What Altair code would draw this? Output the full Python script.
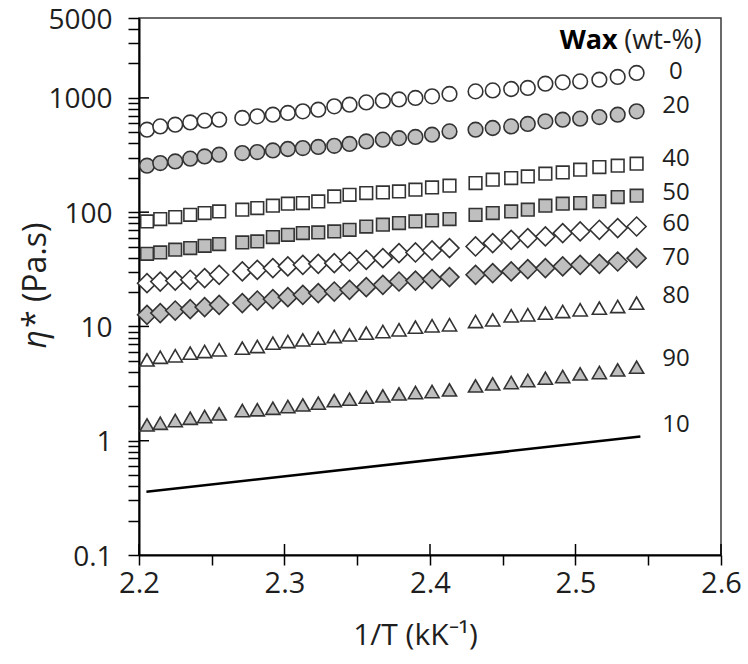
import altair as alt
import pandas as pd

# 1/T positions of the measurements (kK^-1)
inv_T = [2.2055, 2.2146, 2.2249, 2.2352, 2.2451, 2.2551,
         2.2710, 2.2813, 2.2920, 2.3023, 2.3126, 2.3232, 2.3342, 2.3447,
         2.3562, 2.3676, 2.3787, 2.3900, 2.4014, 2.4134,
         2.4313, 2.4431, 2.4558, 2.4672, 2.4793, 2.4912, 2.5032, 2.5164,
         2.5290, 2.5420]

# complex viscosity (Pa.s) per wax content (wt-%)
eta_0 = [527, 563, 583, 610, 632, 645, 667, 689, 713, 738, 762, 788, 843, 872,
         913, 945, 968, 998, 1031, 1082, 1140, 1163, 1196, 1221, 1331, 1367,
         1394, 1443, 1524, 1652]
eta_20 = [255, 269, 278, 294, 307, 318, 329, 336, 347, 357, 364, 372, 381, 395,
          416, 431, 444, 455, 476, 509, 527, 545, 563, 591, 623, 644, 658, 680,
          713, 762]
eta_40 = [82.9, 87.0, 90.6, 94.9, 98.2, 101.4, 105.0, 108.6, 113.8, 118.5,
          120.1, 124.1, 137.3, 142.0, 147.0, 148.8, 151.8, 157.1, 164.5, 170.3,
          179.8, 192.2, 198.9, 205.5, 216.9, 222.7, 235.1, 248.3, 254.9, 265.3]
eta_50 = [43.2, 44.4, 46.9, 48.5, 50.8, 52.6, 54.3, 55.4, 60.5, 63.4, 65.6,
          66.4, 67.8, 70.1, 74.9, 77.6, 80.3, 82.9, 84.6, 87.0, 94.9, 98.2,
          101.4, 105.0, 113.8, 118.5, 120.1, 124.1, 135.6, 139.2]
eta_60 = [23.9, 24.7, 25.2, 25.6, 26.5, 28.3, 30.3, 31.3, 32.4, 33.5, 34.6,
          35.3, 35.8, 37.0, 38.3, 39.6, 43.8, 44.4, 46.2, 48.5, 50.1, 53.6,
          57.3, 59.3, 61.3, 65.6, 67.8, 70.1, 72.6, 74.9]
eta_70 = [12.64, 13.08, 13.78, 14.17, 14.76, 15.46, 16.00, 16.86, 17.34, 18.05,
          18.91, 19.57, 20.21, 20.92, 22.08, 23.13, 24.73, 25.2, 25.96, 27.03,
          28.3, 29.3, 30.3, 31.75, 32.4, 33.5, 34.6, 35.3, 37.0, 39.6]
eta_80 = [5.10, 5.38, 5.53, 5.84, 6.03, 6.24, 6.46, 6.67, 7.14, 7.38, 7.63,
          7.90, 8.16, 8.44, 8.74, 9.02, 9.34, 9.86, 10.12, 10.33, 11.04, 11.42,
          12.38, 12.64, 13.08, 13.51, 13.98, 14.46, 14.94, 16.0]
eta_90 = [1.375, 1.423, 1.500, 1.574, 1.626, 1.717, 1.835, 1.868, 1.925, 1.989,
          2.058, 2.130, 2.244, 2.309, 2.404, 2.468, 2.570, 2.638, 2.692, 2.786,
          3.018, 3.143, 3.227, 3.360, 3.526, 3.641, 3.846, 3.948, 4.169, 4.402]

# 10 wt-% shown as a straight fitted line
line_10_x = [2.2051, 2.5446]
line_10_y = [0.358, 1.087]

series_names = ["0", "20", "40", "50", "60", "70", "80", "90"]
series_values = [eta_0, eta_20, eta_40, eta_50, eta_60, eta_70, eta_80, eta_90]
series_shapes = ["circle", "circle", "square", "square",
                 "diamond", "diamond", "triangle-up", "triangle-up"]
series_fills = ["white", "#bfbfbf", "white", "#bfbfbf",
                "white", "#bfbfbf", "white", "#bfbfbf"]
series_sizes = [215, 215, 160, 160, 360, 360, 200, 200]

# right-hand labels
label_text = ["0", "20", "40", "50", "60", "70", "80", "90", "10"]
label_y = [1672, 843, 292, 147, 79.1, 39.6, 18.3, 5.17, 1.375]
label_x = 2.569

x_ticks = [2.2, 2.25, 2.3, 2.35, 2.4, 2.45, 2.5, 2.55, 2.6]
x_major = [2.2, 2.3, 2.4, 2.5, 2.6]
y_ticks = [0.1, 0.2, 0.3, 0.4, 0.5, 0.6, 0.7, 0.8, 0.9,
           1, 2, 3, 4, 5, 6, 7, 8, 9,
           10, 20, 30, 40, 50, 60, 70, 80, 90,
           100, 200, 300, 400, 500, 600, 700, 800, 900,
           1000, 2000, 3000, 4000, 5000]
y_inner_major = [1, 10, 100, 1000]

FONT = "Open Sans"
TXT = "#1e1e1e"
W, H = 582, 537

x_scale = alt.Scale(domain=[2.2, 2.6], nice=False, zero=False)
y_scale = alt.Scale(type="log", domain=[0.1, 5000], nice=False)

x_axis = alt.Axis(
    values=x_ticks,
    labelExpr="round(datum.value * 100) % 10 == 0 ? format(datum.value, '.1f') : ''",
    grid=False, tickSize=10, tickWidth=1.5, tickColor="black",
    domainColor="black", domainWidth=2,
    labelFont=FONT, labelFontSize=29, labelColor=TXT, labelPadding=4,
    labelFlush=False, labelOverlap=False,
    title="1/T (kK⁻¹)", titleFont=FONT, titleFontSize=30,
    titleFontWeight="normal", titleColor=TXT, titlePadding=22,
    titleX=276, titleAlign="center",
)
y_axis = alt.Axis(
    values=y_ticks,
    labelExpr="indexof([0.1, 1, 10, 100, 1000, 5000], datum.value) >= 0 ? toString(datum.value) : ''",
    grid=False, tickSize=11, tickWidth=1.5, tickColor="black",
    domainColor="black", domainWidth=2,
    labelFont=FONT, labelFontSize=28, labelColor=TXT, labelPadding=16,
    labelFlush=False, labelOverlap=False, labelBaseline="middle",
    labelOffset=2,
    title=None,
)

# every layer that uses a scale carries the same axis definition
X = lambda f: alt.X(f, scale=x_scale, axis=x_axis)
Y = lambda f: alt.Y(f, scale=y_scale, axis=y_axis)

layers = []
for i, (name, vals) in enumerate(zip(series_names, series_values)):
    df = pd.DataFrame({"x": inv_T, "y": vals})
    layers.append(
        alt.Chart(df).mark_point(
            shape=series_shapes[i], size=series_sizes[i], filled=True,
            fill=series_fills[i], fillOpacity=1, opacity=1,
            stroke="#333333", strokeWidth=1.6,
        ).encode(x=X("x:Q"), y=Y("y:Q"))
    )

line10 = alt.Chart(pd.DataFrame({"x": line_10_x, "y": line_10_y})).mark_line(
    color="black", strokeWidth=2.5
).encode(x=X("x:Q"), y=Y("y:Q"))

labels = alt.Chart(pd.DataFrame({"t": label_text, "x": [label_x] * len(label_text),
                                 "y": label_y})).mark_text(
    font=FONT, fontSize=24, color=TXT, align="center", baseline="middle"
).encode(x=X("x:Q"), y=Y("y:Q"), text="t:N")

header_bold = alt.Chart(pd.DataFrame({"t": ["Wax"], "x": [2.5290], "y": [3169]})).mark_text(
    font=FONT, fontSize=27, fontWeight="bold", color="black", align="right", baseline="middle"
).encode(x=X("x:Q"), y=Y("y:Q"), text="t:N")
header_unit = alt.Chart(pd.DataFrame({"t": ["(wt-%)"], "x": [2.5335], "y": [3169]})).mark_text(
    font=FONT, fontSize=27, color=TXT, align="left", baseline="middle"
).encode(x=X("x:Q"), y=Y("y:Q"), text="t:N")

# inner halves of the major ticks
x_inner = alt.Chart(pd.DataFrame({"x": x_major})).mark_rule(
    color="black", strokeWidth=1.5
).encode(x=X("x:Q"), y=alt.value(H - 11), y2=alt.value(H))
y_inner = alt.Chart(pd.DataFrame({"y": y_inner_major})).mark_rule(
    color="black", strokeWidth=1.5
).encode(y=Y("y:Q"), x=alt.value(0), x2=alt.value(10))

# y-axis title with an italic eta
ytitle_eta = alt.Chart(pd.DataFrame({"t": ["η"]})).mark_text(
    font=FONT, fontSize=32, fontStyle="italic", color=TXT,
    angle=270, align="right", baseline="middle"
).encode(x=alt.value(-103), y=alt.value(312), text="t:N")
ytitle_rest = alt.Chart(pd.DataFrame({"t": ["* (Pa.s)"]})).mark_text(
    font=FONT, fontSize=32, color=TXT,
    angle=270, align="left", baseline="middle"
).encode(x=alt.value(-103), y=alt.value(310), text="t:N")

chart = alt.layer(
    *layers, line10, labels, header_bold, header_unit, x_inner, y_inner,
    ytitle_eta, ytitle_rest,
).properties(
    width=W, height=H,
    autosize=alt.AutoSizeParams(type="none"),
    padding={"left": 139, "top": 18, "right": 27, "bottom": 109},
    background="white",
).configure_view(
    stroke="#3a3a3a", strokeWidth=1.5
)

chart.save("out.html", embed_options={"renderer": "svg", "actions": False})
